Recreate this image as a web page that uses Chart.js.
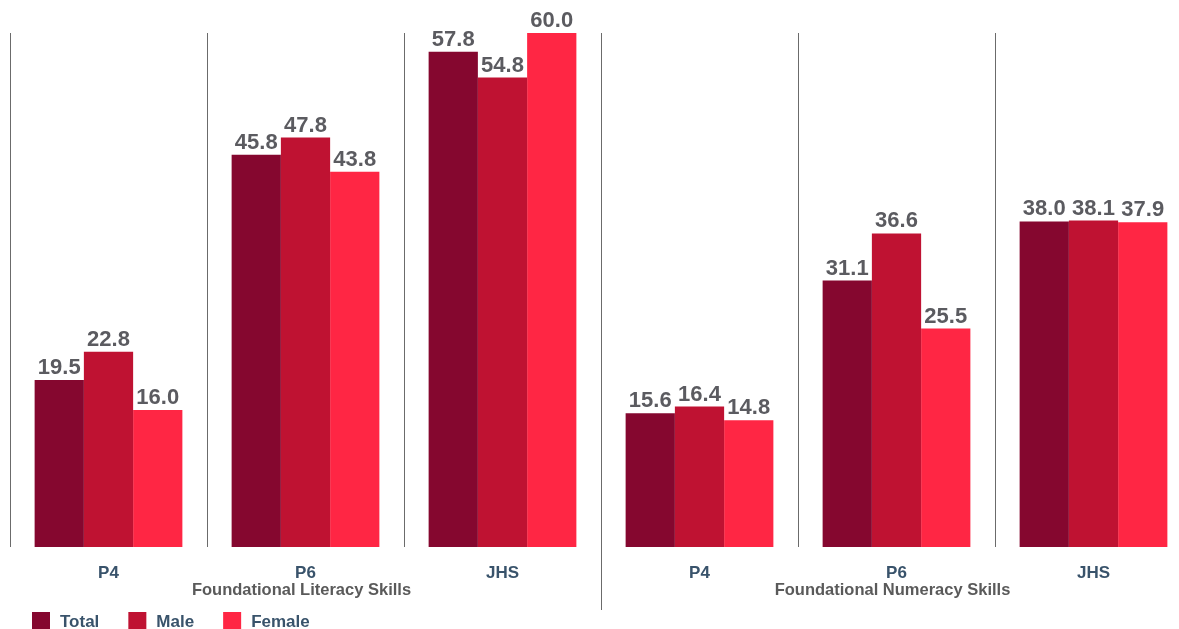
<!DOCTYPE html>
<html>
<head>
<meta charset="utf-8">
<script src="https://cdn.jsdelivr.net/npm/chart.js@4.4.0/dist/chart.umd.min.js"></script>
<style>
  html, body { margin: 0; padding: 0; overflow: hidden; background: #fff; }
  #wrap { position: relative; width: 1192px; height: 629px; }
</style>
</head>
<body>
<div id="wrap"><canvas id="skillsChart"></canvas></div>
<script>
// grade levels along the axis, then the two skill areas under them
const grades = ['P4', 'P6', 'JHS', 'P4', 'P6', 'JHS'];
const skillAreas = ['', 'Foundational Literacy Skills', '', '', 'Foundational Numeracy Skills', ''];

// % of pupils with foundational skills
const totalValues = [19.5, 45.8, 57.8, 15.6, 31.1, 38.0];
const maleValues = [22.8, 47.8, 54.8, 16.4, 36.6, 38.1];
const femaleValues = [16.0, 43.8, 60.0, 14.8, 25.5, 37.9];

const FONT = '"Liberation Sans", Arial, sans-serif';
const LINE_COLOR = '#6b6b6b';

// numbers above each bar
const valueLabels = {
  id: 'valueLabels',
  afterDatasetsDraw(chart) {
    const ctx = chart.ctx;
    ctx.save();
    ctx.font = 'bold 22px ' + FONT;
    ctx.fillStyle = '#5b5b60';
    ctx.textAlign = 'center';
    ctx.textBaseline = 'alphabetic';
    chart.data.datasets.forEach((ds, i) => {
      chart.getDatasetMeta(i).data.forEach((bar, j) => {
        ctx.fillText(ds.data[j].toFixed(1), bar.x, bar.y - 6);
      });
    });
    ctx.restore();
  }
};

// skill area names, divider between the halves, legend row
const extras = {
  id: 'extras',
  afterDraw(chart) {
    const x = chart.scales.x;
    const area = chart.chartArea;
    const ctx = chart.ctx;
    ctx.save();

    // divider between literacy and numeracy runs further down
    const px = Math.round((x.getPixelForValue(2) + x.getPixelForValue(3)) / 2) + 0.5;
    ctx.strokeStyle = LINE_COLOR;
    ctx.lineWidth = 1;
    ctx.beginPath();
    ctx.moveTo(px, area.bottom);
    ctx.lineTo(px, 610);
    ctx.stroke();

    ctx.font = 'bold 16.5px ' + FONT;
    ctx.fillStyle = '#5a5a5a';
    ctx.textAlign = 'center';
    ctx.textBaseline = 'middle';
    skillAreas.forEach((name, i) => {
      if (name) ctx.fillText(name, x.getPixelForValue(i) - 4, 590);
    });

    // legend
    ctx.font = 'bold 17px ' + FONT;
    ctx.textAlign = 'left';
    let lx = 32;
    chart.data.datasets.forEach(ds => {
      ctx.fillStyle = ds.backgroundColor;
      ctx.fillRect(lx, 612, 18, 18);
      ctx.fillStyle = '#39536b';
      ctx.fillText(ds.label, lx + 28, 622);
      lx += 28 + ctx.measureText(ds.label).width + 29;
    });
    ctx.restore();
  }
};

const ctx = document.getElementById('skillsChart').getContext('2d');
new Chart(ctx, {
  type: 'bar',
  data: {
    labels: grades,
    datasets: [
      { label: 'Total', data: totalValues, backgroundColor: '#85072f' },
      { label: 'Male', data: maleValues, backgroundColor: '#bf1232' },
      { label: 'Female', data: femaleValues, backgroundColor: '#ff2644' }
    ]
  },
  options: {
    responsive: true,
    maintainAspectRatio: false,
    animation: false,
    layout: { padding: { top: 33, left: 3, right: 0, bottom: 29.6 } },
    datasets: {
      bar: { borderWidth: 0, barPercentage: 1, categoryPercentage: 0.75 }
    },
    plugins: {
      tooltip: { enabled: false },
      legend: { display: false }
    },
    scales: {
      x: {
        grid: { display: true, offset: true, drawTicks: false, color: LINE_COLOR, lineWidth: 1 },
        border: { display: false },
        ticks: {
          padding: 16,
          color: '#39536b',
          maxRotation: 0,
          font: { family: FONT, size: 17, weight: 'bold' }
        }
      },
      y: {
        min: 0,
        max: 60,
        afterFit(scale) { scale.width = 7; },
        grid: { display: false },
        border: { display: false },
        ticks: { display: false }
      }
    }
  },
  plugins: [valueLabels, extras]
});
</script>
</body>
</html>
